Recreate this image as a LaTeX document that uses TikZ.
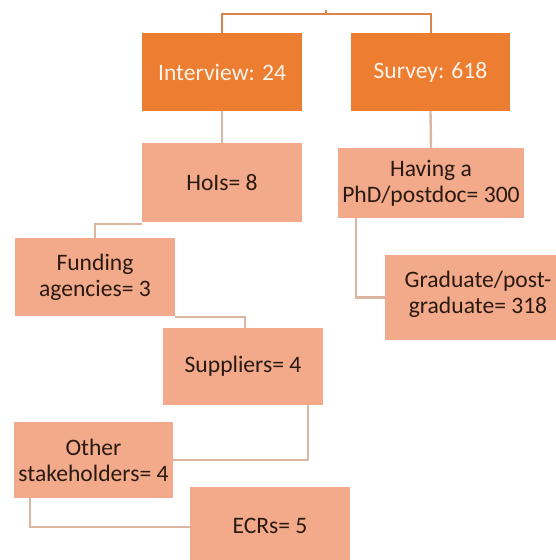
\documentclass[tikz,border=0pt]{standalone}
\usepackage{fontspec}
\setmainfont{Carlito}
\definecolor{darkbox}{HTML}{ED7D31}
\definecolor{lightbox}{HTML}{F2AA8A}
\definecolor{toplink}{HTML}{D9834F}
\definecolor{lowlink}{HTML}{DDB6A2}
\definecolor{darktext}{HTML}{FFF4EA}
\definecolor{lighttext}{HTML}{2A1A12}
\begin{document}
\begin{tikzpicture}[x=1pt,y=-1pt,
  boxbase/.style={rectangle, inner sep=0pt, align=center,
    font=\fontsize{23.6}{26}\selectfont},
  darknode/.style={boxbase, fill=darkbox, text=darktext},
  lightnode/.style={boxbase, fill=lightbox, text=lighttext},
  toplinks/.style={draw=toplink, line width=2pt},
  lowlinks/.style={draw=lowlink, line width=2.4pt}]
\useasboundingbox[fill=white] (0,0) rectangle (555,560);
% boxes
\node[darknode, minimum width=160pt, minimum height=78pt] (interview) at (222,72) {Interview: 24};
\node[darknode, minimum width=159pt, minimum height=78pt] (survey) at (430.5,72) {Survey: 618};
\node[lightnode, minimum width=160pt, minimum height=79pt] (hois) at (222,182.5) {HoIs= 8};
\node[lightnode, minimum width=186pt, minimum height=70pt] (having) at (431,183) {Having a\\PhD/postdoc= 300};
\node[lightnode, minimum width=186pt, minimum height=85pt, text depth=10pt] (graduate) at (478,297.5) {Graduate/post-\\graduate= 318};
\node[lightnode, minimum width=160pt, minimum height=78pt] (funding) at (95,277) {Funding\\agencies= 3};
\node[lightnode, minimum width=160pt, minimum height=77pt] (suppliers) at (243,366.5) {Suppliers= 4};
\node[lightnode, minimum width=159pt, minimum height=76pt] (other) at (93.5,460) {Other\\stakeholders= 4};
\node[lightnode, minimum width=160pt, minimum height=78pt] (ecrs) at (270,526) {ECRs= 5};
% top connector
\coordinate (root) at (326,10);
\coordinate (rootjoin) at (326,14);
\draw[toplinks] (root) -- (rootjoin);
\draw[toplinks] (interview.north) -- (interview.north |- rootjoin) -- (survey.north |- rootjoin) -- (survey.north);
% lower connectors
\draw[lowlinks] (interview.south) -- (hois.north);
\draw[lowlinks] (survey.south) -- (having.north);
\draw[lowlinks] ([yshift=-1.5pt]hois.south west) -| (funding.north);
\draw[lowlinks] ([yshift=-1pt]funding.south east) -| ([xshift=2pt]suppliers.north);
\draw[lowlinks] ([xshift=65pt]suppliers.south) |- (other.east);
\draw[lowlinks] ([xshift=-63.5pt]other.south) |- ([yshift=-1pt]ecrs.west);
\draw[lowlinks] ([xshift=-75pt]having.south) |- (graduate.west);
\end{tikzpicture}
\end{document}
